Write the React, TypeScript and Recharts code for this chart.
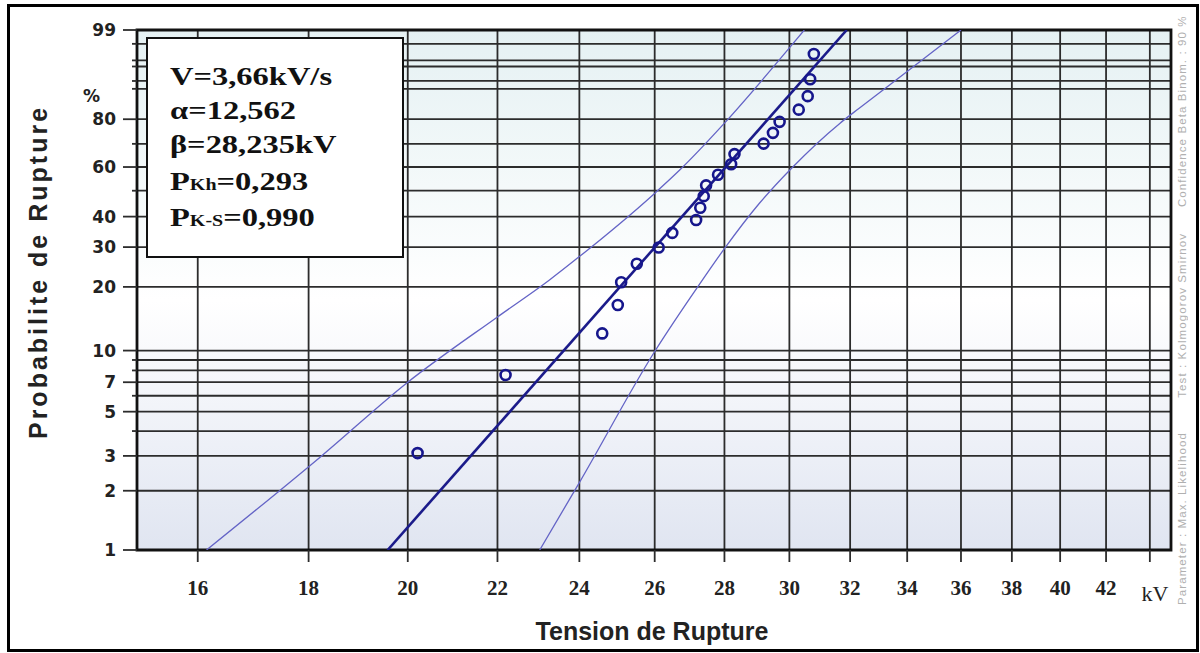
import React from "react";
import {
  ComposedChart,
  Line,
  Scatter,
  XAxis,
  YAxis,
  CartesianGrid,
  ReferenceArea,
} from "recharts";

// measured breakdown voltages (kV) and their rupture probabilities (%)
const ruptureKv = [
  20.21, 22.19, 24.59, 25.0, 25.09, 25.51, 26.11, 26.49, 27.17, 27.29, 27.39,
  27.46, 27.81, 28.2, 28.3, 29.19, 29.48, 29.69, 30.3, 30.59, 30.67, 30.79,
];
const rupturePct = [
  3.1, 7.6, 12.1, 16.5, 21.0, 25.4, 29.9, 34.4, 38.8, 43.3, 47.8, 52.2, 56.7,
  61.2, 65.6, 70.1, 74.6, 79.0, 83.5, 87.9, 92.4, 96.9,
];

// 90 % confidence band (beta-binomial)
const upperKv = [16.15, 18.25, 20.0, 22.0, 23.25, 24.0, 25.95, 26.7, 28.0, 30.0, 30.48];
const upperPct = [1, 3, 7, 14.5, 21.5, 27.3, 48.3, 58.7, 78.5, 97.6, 99];
const lowerKv = [23.01, 24.0, 26.0, 27.27, 28.01, 29.06, 30.07, 31.65, 32.31, 34.08, 36.0];
const lowerPct = [1, 2.2, 9.9, 20.6, 29.7, 45.0, 59.5, 78.4, 84.0, 94.4, 99];

// Weibull parameters
const alpha = 12.562;
const beta = 28.235;
const fitPct = [1, 99];

const xTicks = [16, 18, 20, 22, 24, 26, 28, 30, 32, 34, 36, 38, 40, 42, 44];
const probGrid = [1, 2, 3, 4, 5, 6, 7, 8, 9, 10, 20, 30, 40, 50, 60, 70, 80, 90, 92, 95, 96, 98, 99];
const probLabels = [1, 2, 3, 5, 7, 10, 20, 30, 40, 60, 80, 99];

// Weibull probability paper: y = ln(-ln(1 - p))
const wb = (pct: number) => Math.log(-Math.log(1 - pct / 100));

const points = ruptureKv.map((kv, i) => ({ x: kv, y: wb(rupturePct[i]) }));
const upper = upperKv.map((kv, i) => ({ x: kv, y: wb(upperPct[i]) }));
const lower = lowerKv.map((kv, i) => ({ x: kv, y: wb(lowerPct[i]) }));
const fit = fitPct.map((p) => ({
  x: beta * Math.pow(-Math.log(1 - p / 100), 1 / alpha),
  y: wb(p),
}));

const GRID = "#2c2c2c";
const SERIF = "'Liberation Serif', 'Times New Roman', serif";
const SANS = "'Liberation Sans', Arial, sans-serif";

function XTick(props: any) {
  const { x, y, payload } = props;
  const unit = payload.value === 44;
  return (
    <g>
      <line x1={x} y1={y} x2={x} y2={y + 12} stroke={GRID} strokeWidth={1.8} />
      <text
        x={unit ? x + 5 : x}
        y={unit ? y + 51 : y + 45}
        textAnchor="middle"
        fontFamily={SERIF}
        fontWeight={unit ? 400 : 700}
        fontSize={unit ? 22 : 21}
        fill="#222"
      >
        {unit ? "kV" : payload.value}
      </text>
    </g>
  );
}

function YTick(props: any) {
  const { x, y, payload } = props;
  let pct = probGrid[0];
  probGrid.forEach((p) => {
    if (Math.abs(wb(p) - payload.value) < Math.abs(wb(pct) - payload.value)) pct = p;
  });
  const major = probLabels.includes(pct);
  return (
    <g>
      <line x1={x - (major ? 14 : 5)} y1={y} x2={x} y2={y} stroke={GRID} strokeWidth={1.8} />
      {major && (
        <text
          x={x - 21}
          y={y}
          dy="0.36em"
          textAnchor="end"
          fontFamily="'DejaVu Sans', sans-serif"
          fontWeight={700}
          fontSize={17}
          fill="#222"
        >
          {pct}
        </text>
      )}
    </g>
  );
}

const Ring = (props: any) => (
  <circle cx={props.cx} cy={props.cy} r={5} fill="none" stroke="#16168c" strokeWidth={2.6} />
);

export default function App() {
  return (
    <div style={{ position: "relative", width: 1200, height: 653, background: "#fff", overflow: "hidden" }}>
      <style>{`body{margin:0}`}</style>
      <ComposedChart width={1200} height={653} margin={{ top: 30, right: 29, bottom: 43, left: 0 }}>
        <defs>
          <linearGradient id="plotBg" x1="0" y1="0" x2="0" y2="1">
            <stop offset="0%" stopColor="#e5f1f3" />
            <stop offset="52%" stopColor="#ffffff" />
            <stop offset="100%" stopColor="#e0e5f1" />
          </linearGradient>
        </defs>
        <CartesianGrid fill="url(#plotBg)" fillOpacity={1} stroke={GRID} strokeWidth={1.8} />
        <XAxis
          dataKey="x"
          type="number"
          scale="log"
          domain={[15, 45]}
          ticks={xTicks}
          interval={0}
          allowDataOverflow
          height={60}
          tickSize={0}
          tickMargin={0}
          axisLine={false}
          tick={<XTick />}
        />
        <YAxis
          dataKey="y"
          type="number"
          domain={[wb(1), wb(99)]}
          ticks={probGrid.map(wb)}
          interval={0}
          allowDataOverflow
          width={137}
          tickSize={0}
          tickMargin={0}
          axisLine={false}
          tick={<YTick />}
        />
        <Line data={upper} dataKey="y" type="monotone" stroke="#6464c6" strokeWidth={1.3} dot={false} isAnimationActive={false} />
        <Line data={lower} dataKey="y" type="monotone" stroke="#6464c6" strokeWidth={1.3} dot={false} isAnimationActive={false} />
        <Line data={fit} dataKey="y" type="linear" stroke="#1b1b8a" strokeWidth={2.6} dot={false} isAnimationActive={false} />
        <Scatter data={points} dataKey="y" shape={Ring} isAnimationActive={false} />
        <ReferenceArea
          x1={15}
          x2={45}
          y1={wb(1)}
          y2={wb(99)}
          fill="none"
          stroke="#111"
          strokeWidth={2.8}
          ifOverflow="visible"
        />
      </ComposedChart>

      <svg width={1200} height={653} style={{ position: "absolute", left: 0, top: 0, pointerEvents: "none" }}>
        <rect x={147} y={38} width={256} height={219} fill="#fff" stroke="#111" strokeWidth={2} />
        <g fontFamily={SERIF} fontWeight={700} fontSize={26} fill="#111" transform="scale(1.25,1)">
          <text x={136} y={85}>V=3,66kV/s</text>
          <text x={136} y={119}>α=12,562</text>
          <text x={136} y={153}>β=28,235kV</text>
          <text x={136} y={190}>
            P<tspan fontSize={16}>Kh</tspan>=0,293
          </text>
          <text x={136} y={226}>
            P<tspan fontSize={16}>K-S</tspan>=0,990
          </text>
        </g>
      </svg>

      <div style={{ position: "absolute", left: 83, top: 86, font: `700 17px 'DejaVu Sans', sans-serif`, color: "#222" }}>%</div>
      <div
        style={{
          position: "absolute",
          left: 38,
          top: 272,
          transform: "translate(-50%,-50%) rotate(-90deg)",
          whiteSpace: "nowrap",
          font: `700 25px ${SANS}`,
          letterSpacing: 3,
          color: "#222",
        }}
      >
        Probabilite de Rupture
      </div>
      <div
        style={{
          position: "absolute",
          left: 652,
          top: 631,
          transform: "translate(-50%,-50%)",
          whiteSpace: "nowrap",
          font: `700 25px ${SANS}`,
          color: "#222",
        }}
      >
        Tension de Rupture
      </div>
      <div
        style={{
          position: "absolute",
          left: 1176,
          top: 28,
          height: 577,
          writingMode: "vertical-rl",
          transform: "rotate(180deg)",
          whiteSpace: "nowrap",
          font: `11.5px ${SANS}`,
          color: "#b0b0b0",
          letterSpacing: 1.1,
        }}
      >
        Parameter : Max. Likelihood&nbsp;&nbsp;&nbsp;&nbsp;&nbsp;&nbsp;&nbsp;&nbsp;Test : Kolmogorov Smirnov&nbsp;&nbsp;&nbsp;&nbsp;&nbsp;&nbsp;Confidence Beta Binom. : 90 %
      </div>
      <div
        style={{
          position: "absolute",
          left: 7,
          top: 4,
          width: 1192,
          height: 648,
          border: "3px solid #000",
          boxSizing: "border-box",
          pointerEvents: "none",
        }}
      />
    </div>
  );
}
